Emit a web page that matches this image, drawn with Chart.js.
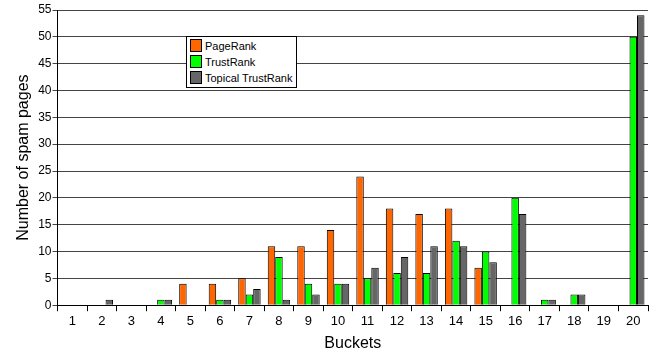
<!DOCTYPE html>
<html>
<head>
<meta charset="utf-8">
<script src="https://cdn.jsdelivr.net/npm/chart.js@4.4.0/dist/chart.umd.min.js"></script>
<style>
  body { margin: 0; background: #fff; }
  #wrap { position: relative; width: 657px; height: 353px; }
  #legend {
    position: absolute; left: 186px; top: 36px;
    border: 1px solid #000; background: #fff;
    padding: 1px 4px 1px 3px;
    font: 11px "Liberation Sans", Arial, sans-serif; color: #000;
  }
  #legend div { height: 16px; line-height: 16px; white-space: nowrap; }
  #legend span.sw {
    display: inline-block; width: 10px; height: 11px; border: 1px solid #000;
    vertical-align: -2px; margin-right: 3px;
  }
</style>
</head>
<body>
<div id="wrap">
  <canvas id="myChart" width="657" height="353"></canvas>
  <div id="legend"></div>
</div>
<script>
// data
const buckets = ['1','2','3','4','5','6','7','8','9','10','11','12','13','14','15','16','17','18','19','20'];
const pageRank = [0, 0, 0, 0, 4, 4, 5, 11, 11, 14, 24, 18, 17, 18, 7, 0, 0, 0, 0, 0];
const trustRank = [0, 0, 0, 1, 0, 1, 2, 9, 4, 4, 5, 6, 6, 12, 10, 20, 1, 2, 0, 50];
const topicalTrustRank = [0, 1, 0, 1, 0, 1, 3, 1, 2, 4, 7, 9, 11, 11, 8, 17, 1, 2, 0, 54];

const seriesNames = ['PageRank', 'TrustRank', 'Topical TrustRank'];
const seriesColors = ['#FF6600', '#00FF00', '#666666'];

const font = { family: '"Liberation Sans", Arial, sans-serif' };

const data = {
  labels: buckets,
  datasets: [pageRank, trustRank, topicalTrustRank].map((vals, i) => ({
    label: seriesNames[i],
    data: vals,
    backgroundColor: seriesColors[i],
    borderColor: '#000',
    borderWidth: 1,
    categoryPercentage: 0.76,
    barPercentage: 1.0
  }))
};

const config = {
  type: 'bar',
  data: data,
  options: {
    responsive: false,
    animation: false,
    layout: { padding: { top: 10, right: 9, left: 14, bottom: 0 } },
    plugins: {
      legend: { display: false },
      tooltip: { enabled: false }
    },
    scales: {
      x: {
        grid: { offset: true, drawOnChartArea: false, color: '#000', tickLength: 6 },
        border: { color: '#000' },
        ticks: { color: '#000', font: { ...font, size: 13 }, padding: 2 },
        title: { display: true, text: 'Buckets', color: '#000', font: { ...font, size: 16 }, padding: { top: 3, bottom: 0 } }
      },
      y: {
        min: 0, max: 55,
        grid: { color: '#444', tickLength: 5 },
        border: { color: '#000' },
        ticks: { stepSize: 5, color: '#000', font: { ...font, size: 12 }, padding: 1 },
        title: { display: true, text: 'Number of spam pages', color: '#000', font: { ...font, size: 16 }, padding: { top: 0, bottom: 4 } }
      }
    }
  }
};

const myChart = new Chart(document.getElementById('myChart'), config);

// html legend inside the plot
const leg = document.getElementById('legend');
seriesNames.forEach((n, i) => {
  const row = document.createElement('div');
  row.innerHTML = '<span class="sw" style="background:' + seriesColors[i] + '"></span>' + n;
  leg.appendChild(row);
});
</script>
</body>
</html>
